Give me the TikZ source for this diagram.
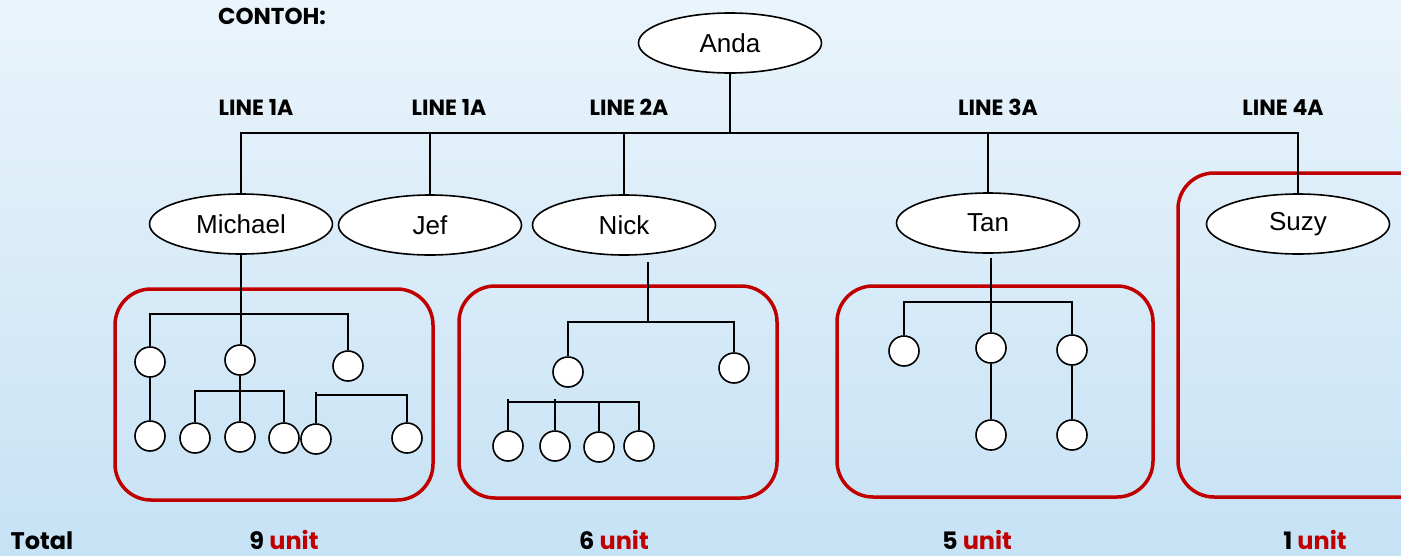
\documentclass[tikz,border=0pt]{standalone}
\usepackage{fontspec}
\setmainfont{Liberation Sans}
\newfontfamily\gothic{Poppins}
\usetikzlibrary{shapes.geometric}
\definecolor{bgtop}{RGB}{234,244,251}
\definecolor{bgbot}{RGB}{198,226,245}
\definecolor{boxred}{RGB}{192,0,0}
\tikzset{
  person/.style={ellipse, draw=black, line width=1.6pt, fill=white, minimum width=183pt, minimum height=60pt, inner sep=0pt, font=\fontsize{26}{30}\selectfont},
  dot/.style={circle, draw=black, line width=1.6pt, fill=white, minimum size=30pt, inner sep=0pt},
  link/.style={draw=black, line width=2pt},
  redbox/.style={draw=boxred, line width=3.5pt, rounded corners=36pt},
  lbl/.style={font=\gothic\bfseries\fontsize{22}{26}\selectfont, inner sep=0pt, anchor=base},
  tot/.style={font=\gothic\bfseries\fontsize{24}{28}\selectfont, inner sep=0pt, anchor=base}
}
\begin{document}
\begin{tikzpicture}[x=1pt, y=-1pt]
\useasboundingbox (0,0) rectangle (1401,555);
\shade[top color=bgtop, bottom color=bgbot] (0,0) rectangle (1401,555);

% red boxes
\draw[redbox] (115,289) rectangle (433,500);
\draw[redbox] (459,286) rectangle (777,498);
\draw[redbox] (837,286) rectangle (1153,497);
\draw[redbox] (1178,173) rectangle (1440,497);

% labels
\node[lbl, font=\gothic\bfseries\fontsize{23}{27}\selectfont] (contoh) at (272,24) {CONTOH:};
\node[lbl] (l1) at (256,115) {LINE 1A};
\node[lbl] (l2) at (449,115) {LINE 1A};
\node[lbl] (l3) at (629,115) {LINE 2A};
\node[lbl] (l4) at (998,115) {LINE 3A};
\node[lbl] (l5) at (1283,115) {LINE 4A};

% people
\node[person] (A) at (730,43) {Anda};
\node[person] (M) at (241,224) {Michael};
\node[person] (J) at (430,225) {Jef};
\node[person] (N) at (624,225) {Nick};
\node[person] (T) at (988,223) {Tan};
\node[person] (S) at (1298,224) {Suzy};

% top connectors
\coordinate (h) at (729,133);
\draw[link] (A.south) -- (A.south |- h);
\draw[link] (M.north) |- (h) -| (S.north);
\draw[link] (J.north) -- (J.north |- h);
\draw[link] (N.north) -- (N.north |- h);
\draw[link] (T.north) -- (T.north |- h);

% Michael subtree
\node[dot] (m1) at (150,362) {};
\node[dot] (m2) at (240,360) {};
\node[dot] (m3) at (348,366) {};
\node[dot] (m4) at (150,436) {};
\node[dot] (m5) at (195,438) {};
\node[dot] (m6) at (240,437) {};
\node[dot] (m7) at (284,438) {};
\node[dot] (m8) at (316,439) {};
\node[dot] (m9) at (407,438) {};
\coordinate (c1) at (240,314);
\coordinate (c2) at (240,391);
\coordinate (c3) at (360,395);
\draw[link] (M.south) -- (M.south |- m2.north);
\draw[link] (m1.north) |- (c1) -| (m3.north);
\draw[link] (m1.south) -- (m4.north);
\draw[link] (m2.south) -- (m6.north);
\draw[link] (m5.north) |- (c2) -| (m7.north);
\draw[link] (m8.north) |- (c3) -| (m9.north);
\draw[link] (m8.north |- c3) -- ++(0,-3);

% Nick subtree
\coordinate (n0) at (648,262);
\coordinate (c4) at (648,322);
\coordinate (c5) at (575,402);
\node[dot] (n1) at (568,372) {};
\node[dot] (n2) at (734,368) {};
\node[dot] (n3) at (508,446) {};
\node[dot] (n4) at (555,446) {};
\node[dot] (n5) at (599,447) {};
\node[dot] (n6) at (639,446) {};
\draw[link] (n0) -- (c4);
\draw[link] (n1.north) |- (c4) -| (n2.north);
\draw[link] (n3.north) |- (c5) -| (n6.north);
\draw[link] (n4.north) -- (n4.north |- c5) -- ++(0,-3);
\draw[link] (n5.north) -- (n5.north |- c5);
\draw[link] (n3.north |- c5) -- ++(0,-3);

% Tan subtree
\coordinate (t0) at (991,258);
\coordinate (c6) at (991,302);
\node[dot] (t1) at (904,351) {};
\node[dot] (t2) at (991,348) {};
\node[dot] (t3) at (1072,350) {};
\node[dot] (t4) at (991,435) {};
\node[dot] (t5) at (1072,435) {};
\draw[link] (t0) -- (t2.north);
\draw[link] (t1.north) |- (c6) -| (t3.north);
\draw[link] (t2.south) -- (t4.north);
\draw[link] (t3.south) -- (t5.north);

% totals
\node[tot] (total) at (42,549) {Total};
\node[tot] (u9) at (284,549) {9 \textcolor{boxred}{unit}};
\node[tot] (u6) at (614,549) {6 \textcolor{boxred}{unit}};
\node[tot] (u5) at (977,549) {5 \textcolor{boxred}{unit}};
\node[tot] (u1) at (1315,549) {1 \textcolor{boxred}{unit}};
\end{tikzpicture}
\end{document}
